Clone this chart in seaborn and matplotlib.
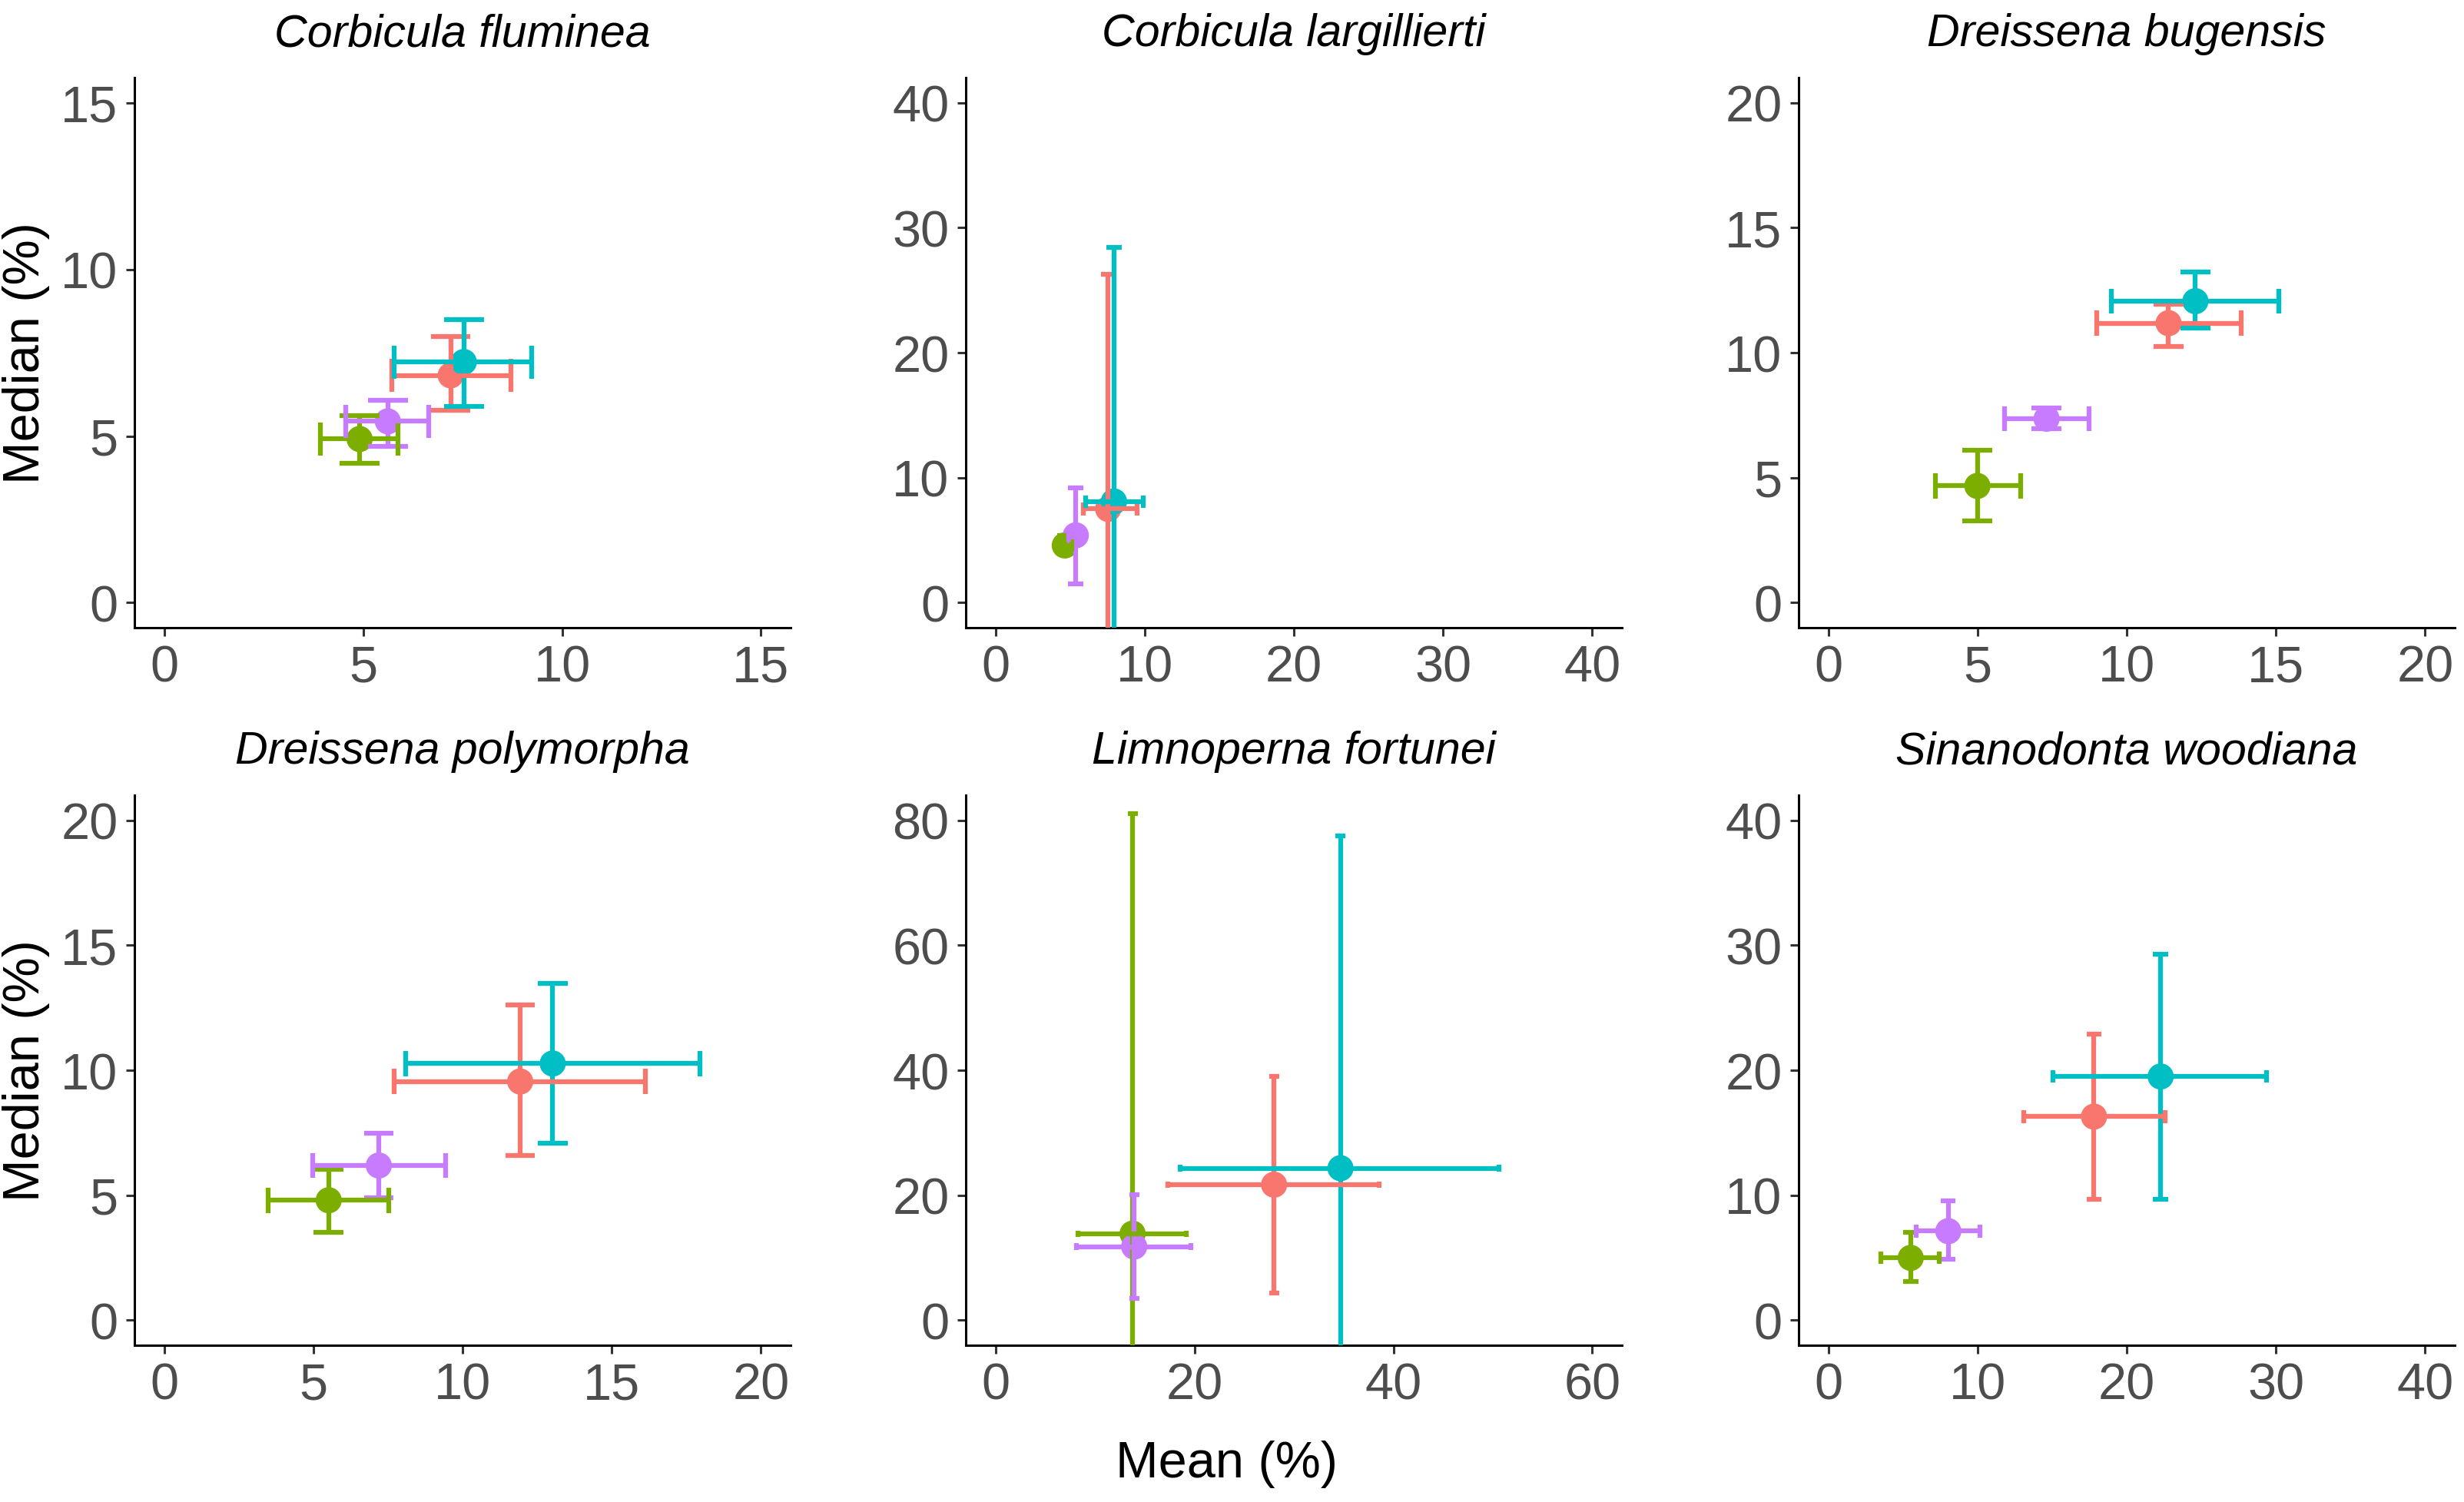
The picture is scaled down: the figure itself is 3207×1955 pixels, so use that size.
import matplotlib
matplotlib.use("Agg")
import matplotlib.pyplot as plt
import seaborn as sns
import pandas as pd
import numpy as np

# ---------------- data ----------------
species = ["Corbicula fluminea", "Corbicula largillierti", "Dreissena bugensis",
           "Dreissena polymorpha", "Limnoperna fortunei", "Sinanodonta woodiana"]
groups = ["Group 1", "Group 2", "Group 3", "Group 4"]
palette = ["#F8766D", "#7CAE00", "#00BFC4", "#C77CFF"]

# per species, values in group order [red, green, cyan, purple]
mean_val = {
    "Corbicula fluminea":     [7.20, 4.91, 7.53, 5.62],
    "Corbicula largillierti": [7.54, 4.63, 7.93, 5.37],
    "Dreissena bugensis":     [11.40, 4.99, 12.30, 7.31],
    "Dreissena polymorpha":   [11.93, 5.51, 13.02, 7.19],
    "Limnoperna fortunei":    [28.00, 13.77, 34.68, 13.93],
    "Sinanodonta woodiana":   [17.80, 5.51, 22.27, 8.03],
}
mean_lo = {
    "Corbicula fluminea":     [5.72, 3.93, 5.78, 4.57],
    "Corbicula largillierti": [5.90, 4.20, 6.04, 4.90],
    "Dreissena bugensis":     [8.99, 3.58, 9.48, 5.90],
    "Dreissena polymorpha":   [7.70, 3.49, 8.10, 4.98],
    "Limnoperna fortunei":    [17.34, 8.30, 18.55, 8.15],
    "Sinanodonta woodiana":   [13.09, 3.53, 15.04, 5.86],
}
mean_hi = {
    "Corbicula fluminea":     [8.71, 5.88, 9.24, 6.64],
    "Corbicula largillierti": [9.47, 5.10, 9.90, 5.90],
    "Dreissena bugensis":     [13.84, 6.44, 15.11, 8.74],
    "Dreissena polymorpha":   [16.14, 7.53, 17.96, 9.42],
    "Limnoperna fortunei":    [38.60, 19.18, 50.60, 19.60],
    "Sinanodonta woodiana":   [22.55, 7.43, 29.35, 10.16],
}
median_val = {
    "Corbicula fluminea":     [6.82, 4.91, 7.22, 5.44],
    "Corbicula largillierti": [7.50, 4.58, 8.10, 5.39],
    "Dreissena bugensis":     [11.18, 4.67, 12.06, 7.36],
    "Dreissena polymorpha":   [9.55, 4.80, 10.27, 6.19],
    "Limnoperna fortunei":    [21.69, 13.86, 24.33, 11.79],
    "Sinanodonta woodiana":   [16.29, 4.99, 19.50, 7.13],
}
median_lo = {
    "Corbicula fluminea":     [5.77, 4.19, 5.88, 4.69],
    "Corbicula largillierti": [-11.3, 3.90, -12.2, 1.51],
    "Dreissena bugensis":     [10.26, 3.26, 10.97, 6.95],
    "Dreissena polymorpha":   [6.60, 3.51, 7.07, 4.91],
    "Limnoperna fortunei":    [4.37, -53.0, -28.8, 3.55],
    "Sinanodonta woodiana":   [9.69, 3.09, 9.69, 4.87],
}
median_hi = {
    "Corbicula fluminea":     [7.98, 5.61, 8.50, 6.07],
    "Corbicula largillierti": [26.30, 5.40, 28.40, 9.19],
    "Dreissena bugensis":     [11.94, 6.09, 13.22, 7.80],
    "Dreissena polymorpha":   [12.60, 6.04, 13.46, 7.48],
    "Limnoperna fortunei":    [39.00, 81.07, 77.50, 20.04],
    "Sinanodonta woodiana":   [22.89, 7.01, 29.28, 9.53],
}
x_max = [15, 40, 20, 20, 60, 40]
y_max = [15, 40, 20, 20, 80, 40]
x_ticks = [[0, 5, 10, 15], [0, 10, 20, 30, 40], [0, 5, 10, 15, 20],
           [0, 5, 10, 15, 20], [0, 20, 40, 60], [0, 10, 20, 30, 40]]
y_ticks = [[0, 5, 10, 15], [0, 10, 20, 30, 40], [0, 5, 10, 15, 20],
           [0, 5, 10, 15, 20], [0, 20, 40, 60, 80], [0, 10, 20, 30, 40]]

rows = []
for sp in species:
    for i, g in enumerate(groups):
        rows.append(dict(species=sp, group=g,
                         mean=mean_val[sp][i], mean_lo=mean_lo[sp][i], mean_hi=mean_hi[sp][i],
                         median=median_val[sp][i], med_lo=median_lo[sp][i], med_hi=median_hi[sp][i]))
df = pd.DataFrame(rows)

# ---------------- style ----------------
sns.set_theme(style="ticks")
plt.rcParams['font.family'] = ['Liberation Sans', 'DejaVu Sans']

fig = plt.figure(figsize=(16.035, 9.78), dpi=200)
lefts = [0.0546, 0.3920, 0.7300]
bottoms = [0.5818, 0.1043]
w, h = 0.2663, 0.3660
cmap = dict(zip(groups, palette))
lw = 2.25
cap = 0.5  # half cap width in data units

for k, sp in enumerate(species):
    r, c = divmod(k, 3)
    ax = fig.add_axes([lefts[c], bottoms[r], w, h])
    d = df[df.species == sp]
    sns.scatterplot(data=d, x="mean", y="median", hue="group", palette=cmap,
                    s=150, linewidth=0, legend=False, ax=ax, zorder=2)
    for _, row in d.iterrows():
        col = cmap[row.group]
        ax.vlines(row["mean"], row.med_lo, row.med_hi, color=col, lw=lw, zorder=3)
        ax.hlines([row.med_lo, row.med_hi], row["mean"] - cap, row["mean"] + cap,
                  color=col, lw=lw, zorder=3)
    for _, row in d.iterrows():
        col = cmap[row.group]
        ax.hlines(row["median"], row.mean_lo, row.mean_hi, color=col, lw=lw, zorder=4)
        ax.vlines([row.mean_lo, row.mean_hi], row["median"] - cap, row["median"] + cap,
                  color=col, lw=lw, zorder=4)
    ax.set_xlim(-0.05 * x_max[k], 1.05 * x_max[k])
    ax.set_ylim(-0.05 * y_max[k], 1.05 * y_max[k])
    ax.set_xticks(x_ticks[k])
    ax.set_yticks(y_ticks[k])
    ax.tick_params(axis='both', labelsize=24, labelcolor='#4D4D4D', color='#333333',
                   length=3.8, width=1.1, pad=4)
    for s in ["top", "right"]:
        ax.spines[s].set_visible(False)
    for s in ["left", "bottom"]:
        ax.spines[s].set_linewidth(1.1)
        ax.spines[s].set_color('black')
    ax.set_title(sp, fontsize=21.3, style='italic', color='black', pad=15)
    ax.set_xlabel("")
    if c == 0:
        ax.set_ylabel("Median (%)", fontsize=24, color='black', labelpad=5)
    else:
        ax.set_ylabel("")

fig.text(1597 / 3207, 1 - 1906 / 1956, "Mean (%)", ha='center', va='center',
         fontsize=24, color='black')

fig.savefig("out.png", dpi=200, facecolor='white')
